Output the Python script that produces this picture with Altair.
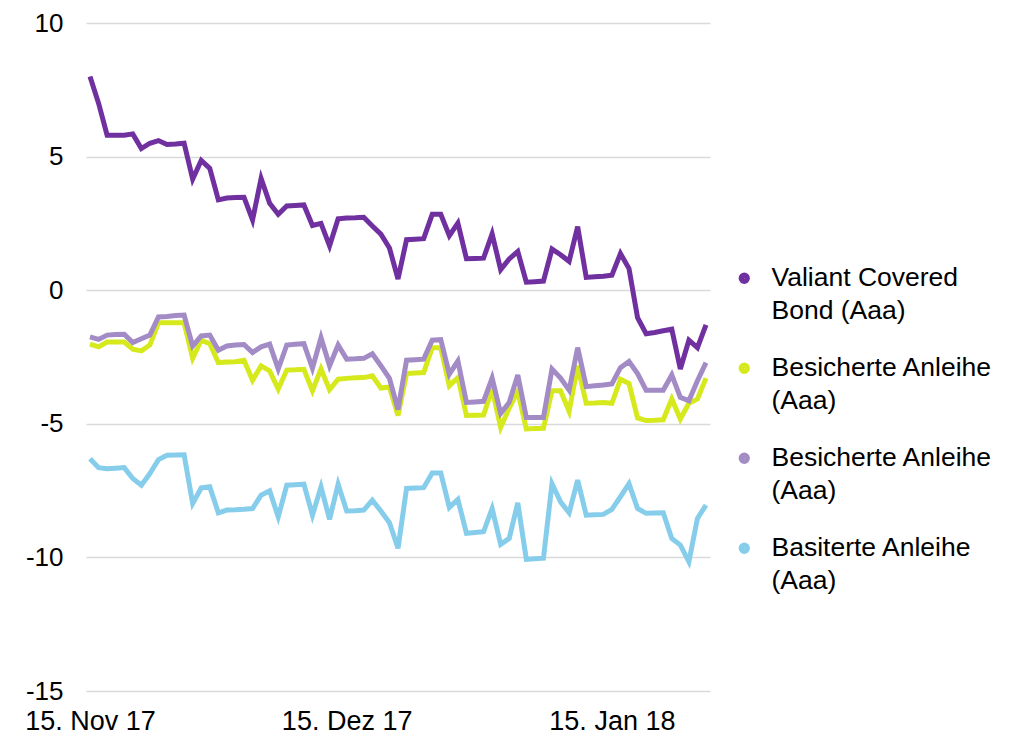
import altair as alt
import pandas as pd

# ---- data (daily, weekends carry Friday value) ----
start_date = "2017-11-15"
n_days = 73
dates = pd.date_range(start_date, periods=n_days, freq="D").strftime("%Y-%m-%d").tolist()

valiant = [8.0, 7.0, 5.8, 5.8, 5.8, 5.85, 5.3, 5.5, 5.6, 5.45, 5.47, 5.5,
           4.16, 4.86, 4.56, 3.38, 3.45, 3.47, 3.48, 2.63, 4.18, 3.25, 2.84, 3.15,
           3.17, 3.19, 2.42, 2.5, 1.66, 2.67, 2.7, 2.71, 2.73, 2.4, 2.1, 1.58,
           0.42, 1.89, 1.91, 1.93, 2.84, 2.84, 2.04, 2.51, 1.18, 1.19, 1.2, 2.11,
           0.77, 1.17, 1.45, 0.3, 0.32, 0.34, 1.54, 1.33, 1.08, 2.38, 0.48, 0.5,
           0.52, 0.56, 1.37, 0.81, -1.03, -1.63, -1.58, -1.52, -1.46, -2.95, -1.87, -2.15,
           -1.3]

bes_lila = [-1.75, -1.84, -1.68, -1.66, -1.65, -1.96, -1.82, -1.68, -1.0, -0.98, -0.95, -0.93,
            -2.09, -1.71, -1.68, -2.25, -2.09, -2.05, -2.03, -2.33, -2.12, -2.02, -2.95, -2.05,
            -2.02, -2.0, -2.92, -1.78, -2.83, -2.05, -2.58, -2.57, -2.55, -2.38, -2.83, -3.3,
            -4.47, -2.62, -2.6, -2.58, -1.87, -1.85, -3.14, -2.65, -4.2, -4.18, -4.16, -3.29,
            -4.61, -4.2, -3.17, -4.76, -4.76, -4.76, -2.95, -3.29, -3.74, -2.15, -3.61, -3.58,
            -3.55, -3.51, -2.9, -2.67, -3.12, -3.74, -3.74, -3.74, -3.17, -4.01, -4.14, -3.39,
            -2.71]

bes_gelb = [-2.02, -2.12, -1.94, -1.94, -1.94, -2.21, -2.27, -2.05, -1.22, -1.22, -1.22, -1.22,
            -2.55, -1.87, -2.0, -2.71, -2.69, -2.68, -2.62, -3.37, -2.83, -3.02, -3.7, -2.99,
            -2.98, -2.96, -3.76, -2.95, -3.72, -3.33, -3.3, -3.28, -3.27, -3.2, -3.66, -3.62,
            -4.69, -3.12, -3.1, -3.08, -2.15, -2.15, -3.58, -3.27, -4.69, -4.68, -4.67, -3.7,
            -5.13, -4.41, -3.79, -5.19, -5.18, -5.17, -3.76, -3.76, -4.53, -2.83, -4.23, -4.22,
            -4.2, -4.23, -3.33, -3.49, -4.78, -4.88, -4.87, -4.85, -4.07, -4.82, -4.23, -4.07,
            -3.29]

basiert = [-6.31, -6.64, -6.68, -6.66, -6.64, -7.05, -7.3, -6.86, -6.34, -6.18, -6.17, -6.16,
           -7.98, -7.4, -7.36, -8.33, -8.23, -8.22, -8.2, -8.17, -7.67, -7.51, -8.48, -7.3,
           -7.28, -7.26, -8.42, -7.36, -8.58, -7.26, -8.26, -8.25, -8.23, -7.86, -8.26, -8.7,
           -9.66, -7.42, -7.4, -7.39, -6.84, -6.84, -8.13, -7.83, -9.1, -9.07, -9.04, -8.17,
           -9.51, -9.29, -7.96, -10.07, -10.05, -10.03, -7.24, -7.92, -8.33, -7.11, -8.42, -8.4,
           -8.39, -8.2, -7.73, -7.24, -8.17, -8.35, -8.34, -8.33, -9.29, -9.54, -10.16, -8.54,
           -8.04]

series_keys = ["valiant", "bes_gelb", "bes_lila", "basiert"]
series_labels = [["Valiant Covered", "Bond (Aaa)"],
                 ["Besicherte Anleihe", "(Aaa)"],
                 ["Besicherte Anleihe", "(Aaa)"],
                 ["Basiterte Anleihe", "(Aaa)"]]
series_colors = ["#7030a0", "#d6e91c", "#a38bc6", "#86cdeb"]
draw_order = ["bes_gelb", "bes_lila", "basiert", "valiant"]
series_values = {"valiant": valiant, "bes_gelb": bes_gelb,
                 "bes_lila": bes_lila, "basiert": basiert}

tick_dates = ["2017-11-15", "2017-12-15", "2018-01-15"]
tick_labels = ["15. Nov 17", "15. Dez 17", "15. Jan 18"]
y_ticks = [-15, -10, -5, 0, 5, 10]

# ---- long table ----
rows = []
for k in draw_order:
    for d, v in zip(dates, series_values[k]):
        rows.append({"datum": d, "wert": v, "serie": k})
df = pd.DataFrame(rows)

x_label_expr = "{" + ", ".join(f"'{d}': '{l}'" for d, l in zip(tick_dates, tick_labels)) + "}[utcFormat(datum.value, '%Y-%m-%d')]"
legend_label_expr = "{" + ", ".join(
    f"'{k}': [" + ", ".join(f"'{s}'" for s in lab) + "]" for k, lab in zip(series_keys, series_labels)
) + "}[datum.value]"

tick_dt = [alt.DateTime(year=int(d[:4]), month=int(d[5:7]), date=int(d[8:]), utc=True) for d in tick_dates]

FONT = "Liberation Sans"

chart = alt.Chart(df).mark_line(strokeWidth=5, strokeJoin="miter").encode(
    x=alt.X("datum:T",
            scale=alt.Scale(type="utc", nice=False, padding=4),
            axis=alt.Axis(values=tick_dt, labelExpr=x_label_expr, title=None,
                          grid=False, domain=False, ticks=False,
                          labelPadding=17, labelFontSize=27, labelFont=FONT,
                          labelColor="#000000", labelOverlap=False, labelFlush=False)),
    y=alt.Y("wert:Q",
            scale=alt.Scale(domain=[-15, 10], nice=False, zero=False),
            axis=alt.Axis(values=y_ticks, title=None, grid=True, gridColor="#d9d9d9",
                          gridWidth=1.6, domain=False, ticks=False, labelPadding=23,
                          labelExpr="datum.value + ''",
                          labelFontSize=26, labelFont=FONT, labelColor="#000000")),
    color=alt.Color("serie:N",
                    scale=alt.Scale(domain=series_keys, range=series_colors),
                    legend=alt.Legend(orient="none", legendX=645, legendY=242, title=None,
                                      symbolType="circle", symbolSize=28, symbolStrokeWidth=6,
                                      labelExpr=legend_label_expr, labelFontSize=26.5,
                                      labelFont=FONT, labelColor="#000000", labelOffset=14,
                                      rowPadding=28, labelLimit=400)),
    detail="serie:N",
).properties(
    width=624, height=668,
    padding={"left": 16, "top": 2, "right": 0, "bottom": 0},
).configure(
    style={"guide-label": {"lineHeight": 33}}
).configure_view(stroke=None)

chart.save("out.html", embed_options={"renderer": "svg", "actions": False})
